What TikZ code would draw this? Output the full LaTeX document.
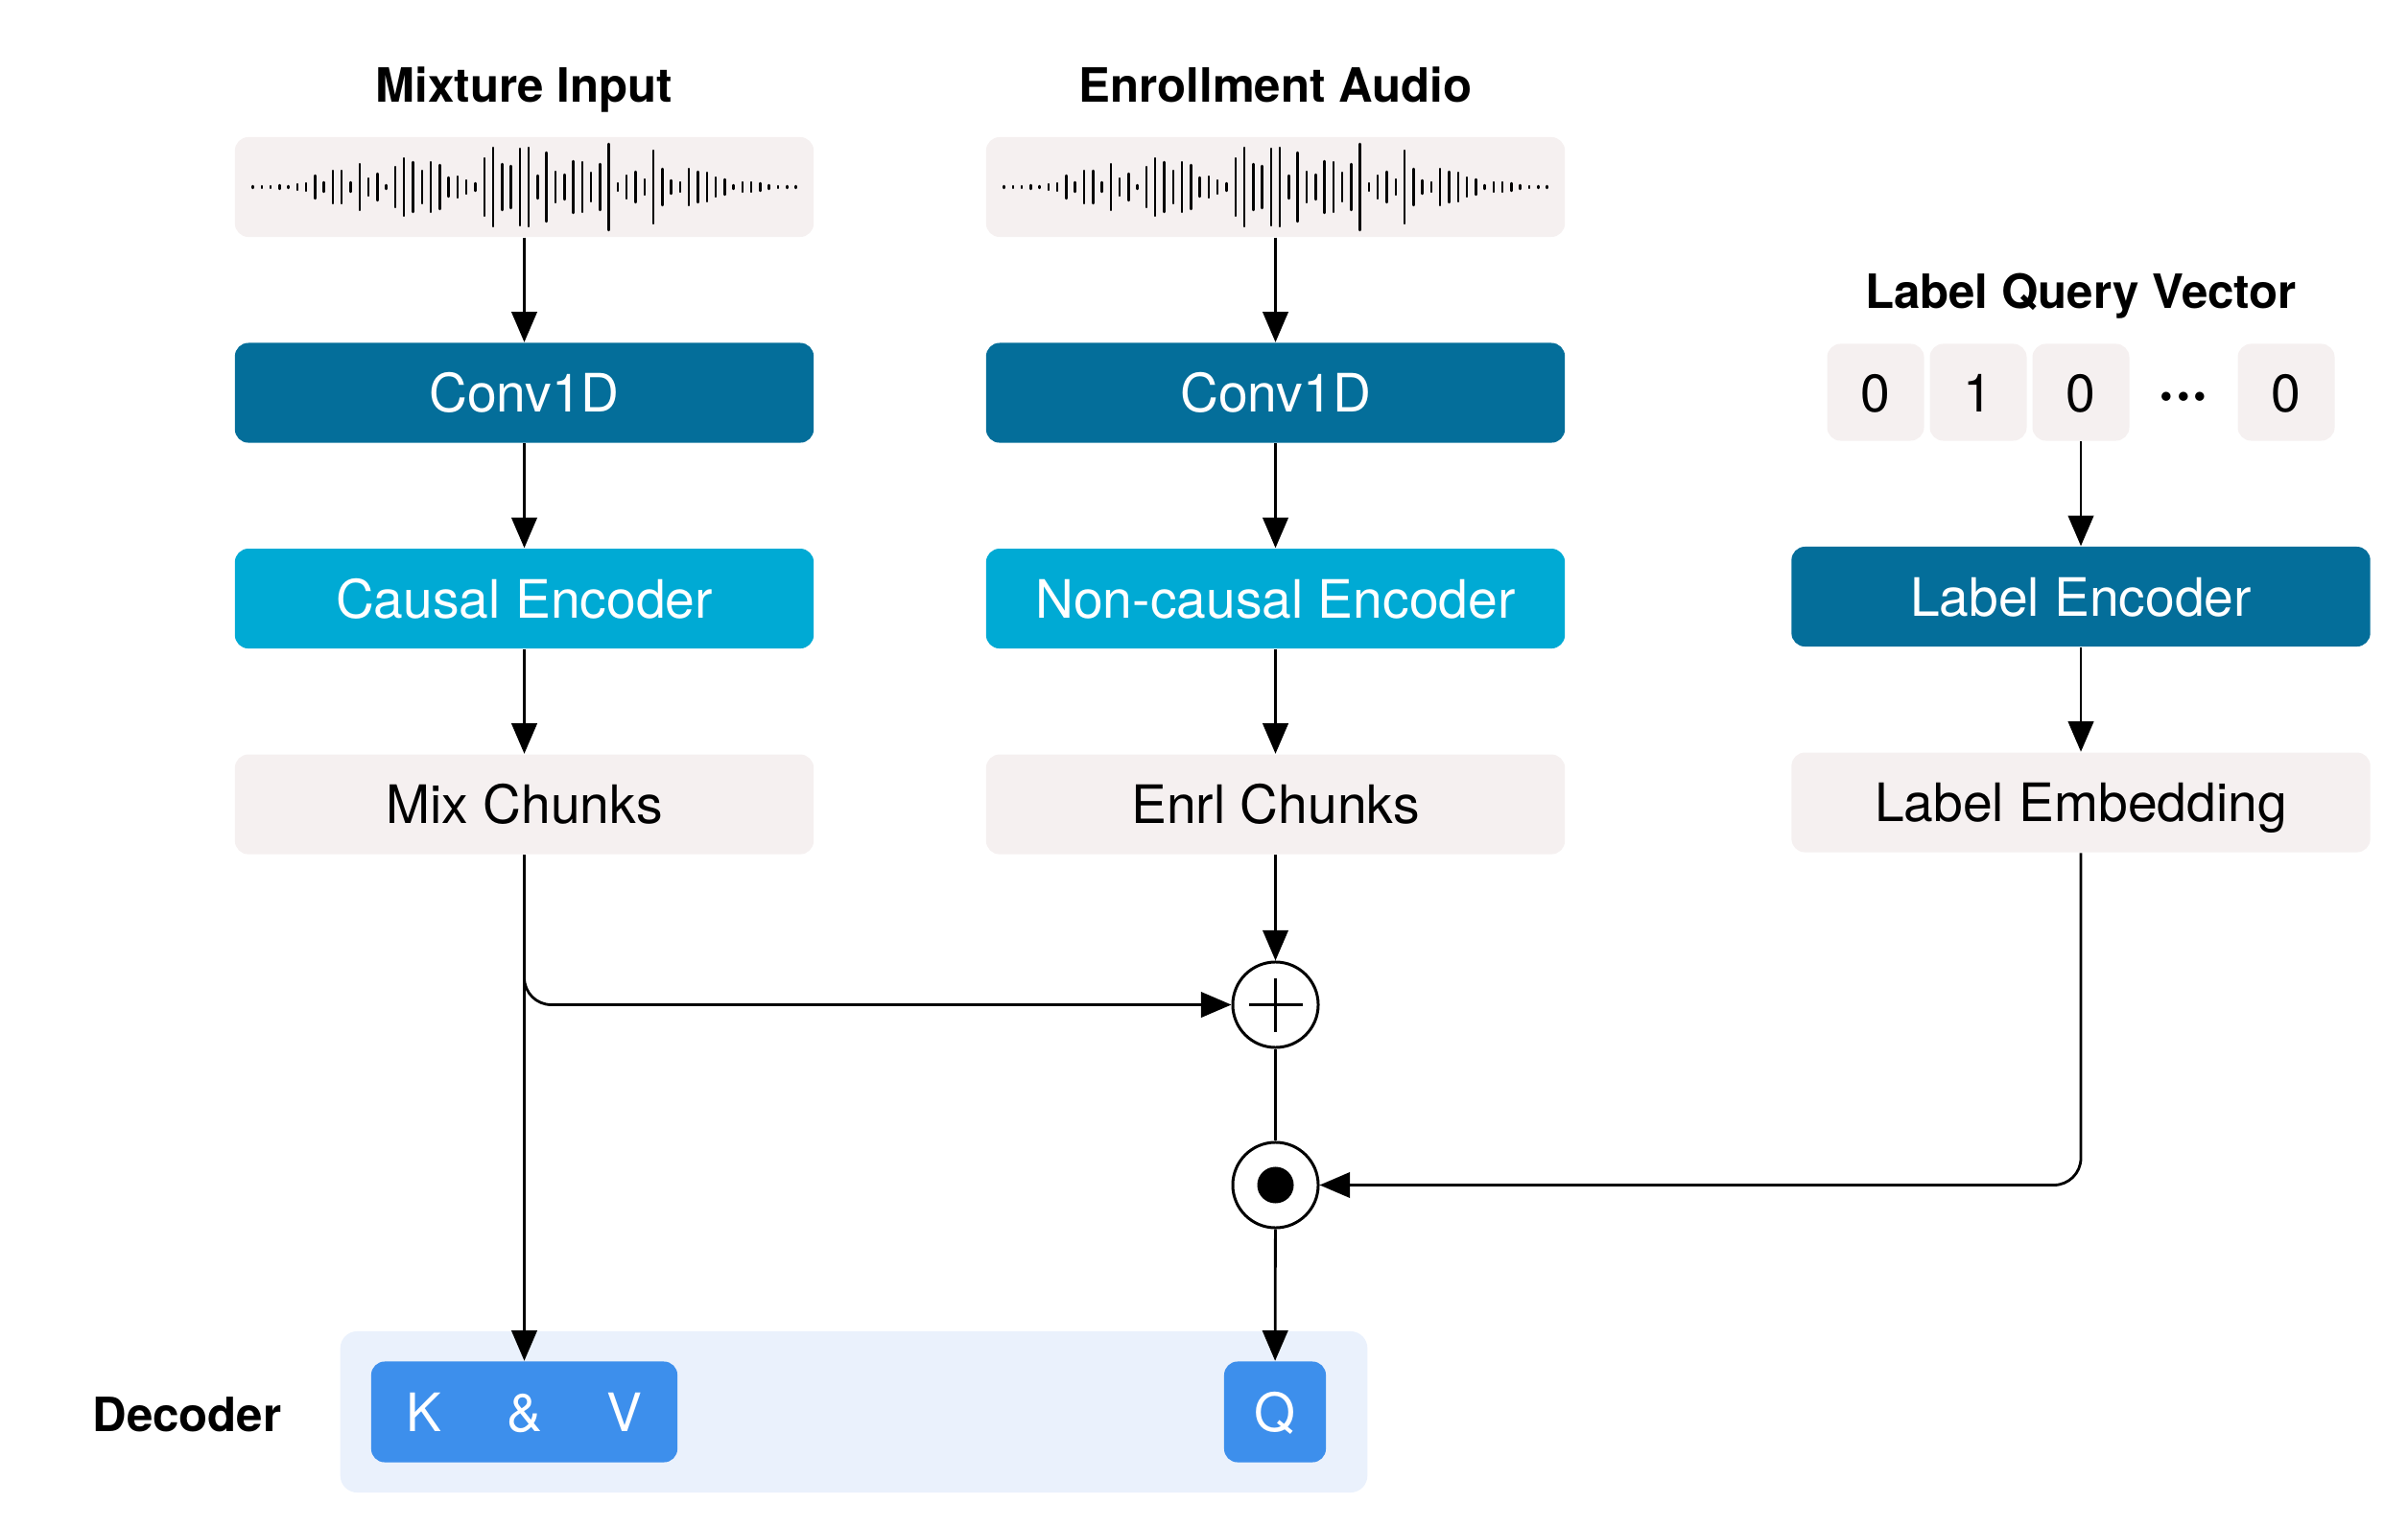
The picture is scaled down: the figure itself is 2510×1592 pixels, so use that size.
\documentclass[tikz,border=0pt]{standalone}
\usepackage{fontspec}
\setmainfont{TeX Gyre Heros}
\usetikzlibrary{positioning,arrows.meta}
\definecolor{paleBg}{HTML}{F5F0F0}
\definecolor{convBlue}{HTML}{046E9A}
\definecolor{encCyan}{HTML}{00AAD4}
\definecolor{decBg}{HTML}{EAF1FC}
\definecolor{qBlue}{HTML}{3D8FEC}
\def\wavebars{1,1,1,2,1,3,4,12,5,17,17,5,24,9,14,2,21,30,26,17,26,23,10,11,7,4,30,41,24,22,40,41,12,36,16,13,27,26,15,24,45,4,12,16,8,38,19,7,5,19,16,15,10,8,2,5,5,4,2,1,1,1}
\def\drawwave#1{%
  \begin{scope}[shift={(#1.center)}]
    \foreach \a [count=\i] in \wavebars
      \draw[bar] ({(\i-31.5)*9.28},-\a) -- ({(\i-31.5)*9.28},\a);
  \end{scope}}
\tikzset{
  block/.style={rounded corners=4pt, minimum width=6.03cm, minimum height=1.04cm, inner sep=0pt,
    text height=11.4pt, text depth=0pt, font=\fontsize{15.7}{19}\selectfont},
  darkblock/.style={block, fill=convBlue, text=white},
  cyanblock/.style={block, fill=encCyan, text=white},
  paleblock/.style={block, fill=paleBg},
  bitbox/.style={paleblock, minimum width=1.01cm, minimum height=1.01cm},
  qblock/.style={block, fill=qBlue, text=white, minimum height=1.05cm},
  heading/.style={font=\fontsize{14}{17}\selectfont\bfseries, anchor=base},
  arr/.style={-{Triangle[length=9pt,width=7.5pt]}, line width=0.8pt},
  op/.style={circle, draw, line width=0.85pt, minimum size=0.89cm, inner sep=0pt, fill=white},
  bar/.style={line width=0.7pt, line cap=round},
}
\begin{document}
\begin{tikzpicture}[x=0.01cm, y=-0.01cm, node distance=1.09cm]
\useasboundingbox (0,0) rectangle (2510,1592);

% mixture branch
\node[heading] at (546.5,107) {Mixture Input};
\node[paleblock] (mixwave) at (546.5,195) {};
\node[darkblock, below=of mixwave] (mixconv) {Conv1D};
\node[cyanblock, below=of mixconv] (mixenc) {Causal Encoder};
\node[paleblock, below=of mixenc] (mixchunk) {Mix Chunks};
\drawwave{mixwave}

% enrollment branch
\node[heading] at (1329.5,107) {Enrollment Audio};
\node[paleblock] (enrlwave) at (1329.5,195) {};
\node[darkblock, below=of enrlwave] (enrlconv) {Conv1D};
\node[cyanblock, below=of enrlconv] (enrlenc) {Non-causal Encoder};
\node[paleblock, below=of enrlenc] (enrlchunk) {Enrl Chunks};
\drawwave{enrlwave}

% label branch
\node[heading] at (2169,322) {Label Query Vector};
\foreach \v/\px [count=\k] in {0/1955,1/2062,0/2169,0/2383}
  \node[bitbox] (bit\k) at (\px,409) {\v};
\node[font=\fontsize{18}{20}\selectfont\bfseries, anchor=base] (bitdots) at (2276,430) {···};
\node[darkblock, below=of bit3] (labelenc) {Label Encoder};
\node[paleblock, below=of labelenc] (labelemb) {Label Embedding};

% fusion
\node[op] (plus) at (1329.5,1047.5) {};
\draw[line width=0.7pt] (plus.center) ++(-28,0) -- ++(56,0);
\draw[line width=0.7pt] (plus.center) ++(0,-28) -- ++(0,56);
\node[op] (dot) at (1329.5,1235.5) {};
\fill (dot.center) circle (0.19cm);

% decoder
\node[fill=decBg, rounded corners=5pt, minimum width=10.7cm, minimum height=1.68cm] (decbg) at (890,1472) {};
\node[heading] at (195,1492) {Decoder};
\node[qblock, minimum width=3.19cm] (kv) at (546.5,1472) {K\hspace{6.8mm}\&\hspace{6.8mm}V};
\node[qblock, minimum width=1.06cm] (q) at (1329,1472) {Q};

% connectors
\draw[arr] (mixwave) -- (mixconv);
\draw[arr] (mixconv) -- (mixenc);
\draw[arr] (mixenc) -- (mixchunk);
\draw[arr] (enrlwave) -- (enrlconv);
\draw[arr] (enrlconv) -- (enrlenc);
\draw[arr] (enrlenc) -- (enrlchunk);
\draw[arr] (bit3) -- (labelenc);
\draw[arr] (labelenc) -- (labelemb);
\draw[arr] (mixchunk) -- (kv);
\draw[arr, rounded corners=8pt] (mixchunk.south) |- (plus.west);
\draw[arr] (enrlchunk) -- (plus);
\draw[line width=0.8pt] (plus) -- (dot);
\draw[arr, rounded corners=8pt] (labelemb.south) |- (dot.east);
\draw[arr] (dot) -- (q);
\end{tikzpicture}
\end{document}
